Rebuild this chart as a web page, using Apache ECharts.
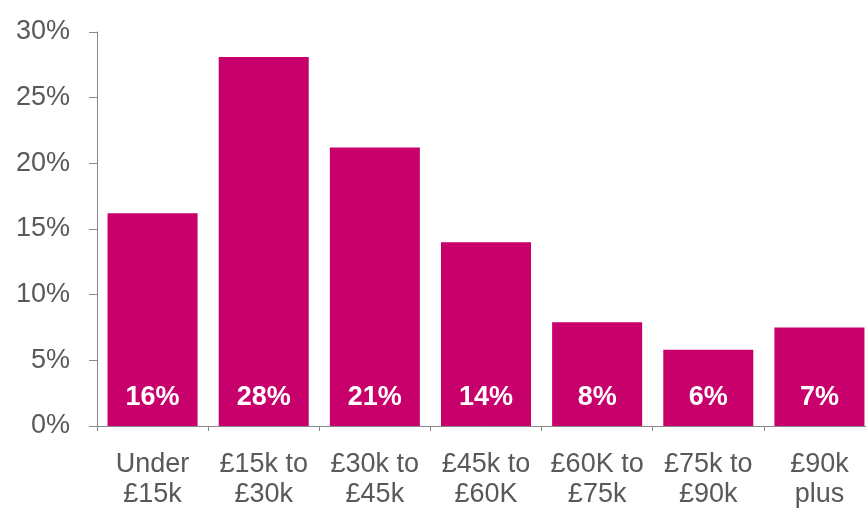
<!DOCTYPE html>
<html><head><meta charset="utf-8">
<script src="https://cdn.jsdelivr.net/npm/echarts@6/dist/echarts.min.js"></script>
<style>html,body{margin:0;padding:0;background:#fff}#c{width:866px;height:508px}</style>
</head><body><div id="c"></div>
<script>
const categories = ['Under\n£15k', '£15k to\n£30k', '£30k to\n£45k', '£45k to\n£60K', '£60K to\n£75k', '£75k to\n£90k', '£90k\nplus'];
const values = [16.2, 28.1, 21.2, 14.0, 7.9, 5.8, 7.5];
const valueLabels = ['16%', '28%', '21%', '14%', '8%', '6%', '7%'];
const yTicks = [0, 5, 10, 15, 20, 25, 30];

const FONT = 'Liberation Sans, Arial, sans-serif';
const chart = echarts.init(document.getElementById('c'), null, {renderer: 'canvas'});
chart.setOption({
  animation: false,
  grid: {left: 97, top: 32, bottom: 82, width: 778, containLabel: false, outerBoundsMode: 'none'},
  xAxis: {
    type: 'category', data: categories,
    axisLine: {lineStyle: {color: '#888', width: 1}},
    axisTick: {show: true, length: 5, lineStyle: {color: '#888'}},
    axisLabel: {color: '#595959', fontSize: 27, fontFamily: FONT, lineHeight: 30, margin: 24, interval: 0}
  },
  yAxis: {
    type: 'value', min: 0, max: 30, interval: 5,
    axisLine: {show: true, lineStyle: {color: '#888', width: 1}},
    axisTick: {show: true, length: 8, lineStyle: {color: '#888'}},
    splitLine: {show: false},
    axisLabel: {color: '#595959', fontSize: 27, fontFamily: FONT, margin: 27,
      formatter: v => yTicks.includes(v) ? v + '%' : ''}
  },
  series: [{
    type: 'bar', data: values, barCategoryGap: '19%',
    itemStyle: {color: '#C8006B'},
    label: {show: true, position: 'insideBottom', distance: 15, color: '#fff', fontWeight: 'bold', fontSize: 27,
      fontFamily: FONT,
      formatter: p => valueLabels[p.dataIndex]}
  }]
});
</script></body></html>
